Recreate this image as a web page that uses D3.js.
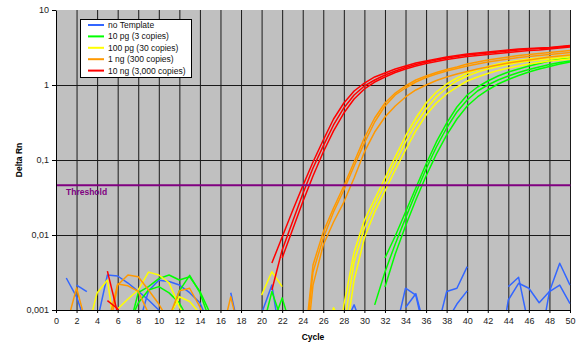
<!DOCTYPE html>
<html>
<head>
<meta charset="utf-8">
<script src="https://cdn.jsdelivr.net/npm/d3@7"></script>
<style>
  body { margin: 0; background: #fff; }
  svg text { font-family: "Liberation Sans", Arial, sans-serif; }
</style>
</head>
<body>
<div id="chart"></div>
<script>
// Amplification plot (Delta Rn vs cycle, log scale)
const width = 576, height = 342;
const plot = { left: 56, right: 570, top: 10, bottom: 310 };

const legendLabels = ["no Template", "10 pg (3 copies)", "100 pg (30 copies)", "1 ng (300 copies)", "10 ng (3,000 copies)"];
const legendColors = ["#3366ff", "#00ff00", "#ffff00", "#ff9900", "#ff0000"];

const yTicks = [0.001, 0.01, 0.1, 1, 10];
const yTickLabels = ["0,001", "0,01", "0,1", "1", "10"];
const xTicks = d3.range(0, 51, 2);
const threshold = 0.046;

// 10 ng (3,000 copies) - each array starts at the cycle given in the table below
const red1 = [0.00423, 0.0094, 0.0209, 0.045, 0.094, 0.185, 0.352, 0.575, 0.832, 1.06, 1.28, 1.445, 1.634, 1.792, 1.965, 2.089, 2.222, 2.362, 2.474, 2.591, 2.672, 2.754, 2.84, 2.929, 3.02, 3.067, 3.114, 3.162, 3.261, 3.362];
const red2 = [0.00185, 0.00631, 0.0149, 0.0352, 0.0782, 0.154, 0.293, 0.494, 0.736, 0.97, 1.166, 1.359, 1.538, 1.711, 1.877, 2.026, 2.154, 2.291, 2.399, 2.512, 2.591, 2.672, 2.754, 2.84, 2.929, 3.02, 3.067, 3.114, 3.211, 3.311];
const red3 = [0.00494, 0.0117, 0.0275, 0.0612, 0.128, 0.244, 0.423, 0.651, 0.885, 1.096, 1.279, 1.468, 1.634, 1.792, 1.935, 2.057, 2.188, 2.291, 2.399, 2.474, 2.551, 2.63, 2.712, 2.797, 2.884, 2.929, 3.02, 3.114, 3.211];
// 1 ng (300 copies)
const orange1 = [0.0002, 0.00398, 0.011, 0.0229, 0.045, 0.094, 0.197, 0.363, 0.575, 0.782, 0.97, 1.166, 1.318, 1.468, 1.609, 1.738, 1.905, 2.026, 2.154, 2.256, 2.362, 2.474, 2.551, 2.63, 2.712, 2.797, 2.884];
const orange2 = [0.00015, 0.00321, 0.00912, 0.0203, 0.0398, 0.0832, 0.169, 0.321, 0.525, 0.736, 0.912, 1.096, 1.259, 1.402, 1.538, 1.66, 1.792, 1.905, 2.026, 2.122, 2.222, 2.326, 2.399, 2.474, 2.551, 2.63, 2.712];
const orange3 = [0.0001, 0.00215, 0.00736, 0.0149, 0.0275, 0.0575, 0.128, 0.236, 0.374, 0.525, 0.692, 0.858, 1.0, 1.148, 1.279, 1.402, 1.514, 1.634, 1.738, 1.848, 1.965, 2.057, 2.154, 2.256, 2.362, 2.436, 2.512];
// 100 pg (30 copies)
const yellow1 = [0.0001, 0.00117, 0.00593, 0.0158, 0.0302, 0.0575, 0.11, 0.209, 0.363, 0.575, 0.807, 1.031, 1.24, 1.445, 1.609, 1.765, 1.905, 2.026, 2.122, 2.222, 2.291, 2.362, 2.436, 2.512];
const yellow2 = [0.0004, 0.00107, 0.0006, 0.00437, 0.0124, 0.0251, 0.0479, 0.0912, 0.174, 0.302, 0.479, 0.692, 0.912, 1.131, 1.318, 1.49, 1.634, 1.765, 1.877, 1.995, 2.089, 2.154, 2.222, 2.291, 2.362];
const yellow3 = [0.0003, 0.00251, 0.00912, 0.0203, 0.0386, 0.0736, 0.136, 0.244, 0.398, 0.575, 0.759, 0.94, 1.131, 1.279, 1.423, 1.561, 1.685, 1.792, 1.905, 1.995, 2.089, 2.154, 2.222];
// 10 pg (3 copies)
const green1 = [0.00117, 0.00321, 0.00759, 0.0168, 0.0363, 0.0759, 0.149, 0.267, 0.437, 0.631, 0.832, 1.0, 1.166, 1.318, 1.468, 1.609, 1.738, 1.877, 1.995, 2.089];
const green2 = [0.00494, 0.0097, 0.0203, 0.0423, 0.0884, 0.174, 0.311, 0.509, 0.736, 0.94, 1.131, 1.318, 1.49, 1.634, 1.792, 1.935, 2.089, 2.222, 2.326];
const green3 = [0.00203, 0.00558, 0.0132, 0.0293, 0.0612, 0.12, 0.215, 0.352, 0.525, 0.692, 0.858, 1.031, 1.184, 1.338, 1.49, 1.634, 1.765, 1.905, 2.026];

// baseline noise fragments
const blueNoise1 = [0.00267, 0.0015, 0.0006];
const blueNoise2 = [0.00215, 0.00176];
const blueNoise3 = [0.0007, 0.00293, 0.00284, 0.00229, 0.00177, 0.00136, 0.001, 0.0006];
const blueNoise4 = [0.0006, 0.0018, 0.0025, 0.0024, 0.00215, 0.0017, 0.00125, 0.0006];
const blueNoise5 = [0.0017, 0.0004];
const blueNoise6 = [0.0009, 0.00215, 0.0003];
const blueNoise7 = [0.0006, 0.00117, 0.0005];
const blueNoise8 = [0.0005, 0.00195, 0.00158, 0.0004];
const blueNoise9 = [0.00108, 0.00165, 0.0005];
const blueNoise10 = [0.0005, 0.00176, 0.00195, 0.00378];
const blueNoise11 = [0.0007, 0.0012, 0.0018];
const blueNoise12 = [0.00205, 0.00273, 0.0006];
const blueNoise13 = [0.0002, 0.00136, 0.00227, 0.00195, 0.00125, 0.00176, 0.0042, 0.00215];
const blueNoise14 = [0.0003, 0.00176, 0.00215, 0.00122];
const greenNoise1 = [0.0005, 0.0017, 0.00205, 0.00262, 0.00293, 0.00251, 0.00278, 0.00177, 0.0009];
const greenNoise2 = [0.0006, 0.00124, 0.00185, 0.00205, 0.00169, 0.00124, 0.0007];
const greenNoise3 = [0.0007, 0.0018, 0.0029, 0.0017, 0.0007];
const greenNoise4 = [0.0005, 0.00176, 0.0007];
const greenNoise5 = [0.0006, 0.00145, 0.0005];
const yellowNoise1 = [0.0005, 0.00169, 0.00251, 0.0003];
const yellowNoise2 = [0.00103, 0.0014, 0.00185, 0.0032, 0.00293, 0.0023, 0.0011, 0.0006];
const yellowNoise3 = [0.0008, 0.0015, 0.0013, 0.0009];
const yellowNoise4 = [0.00158, 0.00324, 0.00205];
const orangeNoise1 = [0.0006, 0.00197, 0.0006];
const orangeNoise2 = [0.0004, 0.00215, 0.00293, 0.00278, 0.00185, 0.0012, 0.0007];
const orangeNoise3 = [0.0006, 0.00222, 0.0021, 0.00177, 0.0009];
const orangeNoise4 = [0.0008, 0.0018, 0.00195, 0.0011, 0.0005];
const orangeNoise5 = [0.0004, 0.0015, 0.0004];
const redNoise1 = [0.0033, 0.0009];
const redNoise2 = [0.00133, 0.00104, 0.0005];

// [group index, first cycle, values] in drawing order
const curves = [
  [0, 1, blueNoise1], [0, 2, blueNoise2], [0, 4, blueNoise3], [0, 8, blueNoise4], [0, 17, blueNoise5],
  [0, 20, blueNoise6], [0, 28, blueNoise7], [0, 33, blueNoise8], [0, 34, blueNoise9], [0, 37, blueNoise10],
  [0, 38, blueNoise11], [0, 44, blueNoise12], [0, 43, blueNoise13], [0, 47, blueNoise14],
  [1, 7, greenNoise1], [1, 7, greenNoise2], [1, 11, greenNoise3], [1, 20, greenNoise4], [1, 21, greenNoise5],
  [1, 31, green1], [1, 32, green2], [1, 32, green3],
  [2, 3, yellowNoise1], [2, 6, yellowNoise2], [2, 11, yellowNoise3], [2, 20, yellowNoise4],
  [2, 27, yellow1], [2, 26, yellow2], [2, 28, yellow3],
  [3, 1, orangeNoise1], [3, 5, orangeNoise2], [3, 5, orangeNoise3], [3, 11, orangeNoise4], [3, 16, orangeNoise5],
  [3, 24, orange1], [3, 24, orange2], [3, 24, orange3],
  [4, 5, redNoise1], [4, 5, redNoise2],
  [4, 21, red1], [4, 21, red2], [4, 22, red3]
];

const x = d3.scaleLinear().domain([0, 50]).range([plot.left, plot.right]);
const y = d3.scaleLog().domain([0.001, 10]).range([plot.bottom, plot.top]);

const svg = d3.select("#chart").append("svg")
    .attr("width", width)
    .attr("height", height);

svg.append("defs").append("clipPath").attr("id", "clip")
  .append("rect")
    .attr("x", plot.left + 0.5).attr("y", plot.top)
    .attr("width", plot.right - plot.left).attr("height", plot.bottom - plot.top + 0.5);

// plot background
svg.append("rect")
    .attr("x", plot.left + 0.5).attr("y", plot.top)
    .attr("width", plot.right - plot.left).attr("height", plot.bottom - plot.top)
    .attr("fill", "#c0c0c0");

// gridlines
svg.append("g").selectAll("line")
  .data(xTicks.filter(d => d > 0))
  .join("line")
    .attr("x1", d => x(d) + 0.5).attr("x2", d => x(d) + 0.5)
    .attr("y1", plot.top).attr("y2", plot.bottom)
    .attr("stroke", "#1a1a1a").attr("stroke-width", 1);

svg.append("g").selectAll("line")
  .data(yTicks.filter(d => d > 0.001 && d < 10))
  .join("line")
    .attr("x1", plot.left).attr("x2", plot.right + 0.5)
    .attr("y1", d => y(d) + 0.5).attr("y2", d => y(d) + 0.5)
    .attr("stroke", "#1a1a1a").attr("stroke-width", 1);

// curves
const line = d3.line()
    .defined(d => d.v != null)
    .x(d => x(d.c))
    .y(d => y(d.v));

svg.append("g").attr("clip-path", "url(#clip)")
  .selectAll("path")
  .data(curves)
  .join("path")
    .attr("fill", "none")
    .attr("stroke", d => legendColors[d[0]])
    .attr("stroke-width", 1.5)
    .attr("stroke-linejoin", "round")
    .attr("d", d => line(d[2].map((v, i) => ({ c: d[1] + i, v }))));

// threshold
svg.append("line")
    .attr("x1", plot.left + 0.5).attr("x2", plot.right + 0.5)
    .attr("y1", y(threshold)).attr("y2", y(threshold))
    .attr("stroke", "#800080").attr("stroke-width", 2);

svg.append("text")
    .attr("x", 66).attr("y", 195)
    .style("font-size", "8.5px").style("font-weight", "bold")
    .attr("fill", "#800080")
    .text("Threshold");

// axes
const yAxis = svg.append("g")
    .attr("transform", "translate(" + plot.left + ",0)")
    .call(d3.axisLeft(y).tickValues(yTicks).tickFormat((d, i) => yTickLabels[i]).tickSize(4).tickPadding(3).tickSizeOuter(0));

const xAxis = svg.append("g")
    .attr("transform", "translate(0," + plot.bottom + ")")
    .call(d3.axisBottom(x).tickValues(xTicks).tickFormat(d3.format("d")).tickSize(3).tickPadding(5).tickSizeOuter(0));

svg.selectAll(".domain, .tick line").attr("stroke", "#000");
svg.selectAll(".tick text")
    .attr("fill", "#222")
    .style("font-size", "9px")
    .style("font-family", "'Liberation Sans', Arial, sans-serif");

svg.append("text")
    .attr("x", (plot.left + plot.right) / 2).attr("y", 340)
    .attr("text-anchor", "middle")
    .style("font-size", "8.5px").style("font-weight", "bold")
    .text("Cycle");

svg.append("text")
    .attr("transform", "translate(21.5," + ((plot.top + plot.bottom) / 2) + ") rotate(-90)")
    .attr("text-anchor", "middle")
    .style("font-size", "8.5px").style("font-weight", "bold")
    .text("Delta Rn");

// legend
const legend = svg.append("g").attr("transform", "translate(80.5,19.5)");
legend.append("rect")
    .attr("width", 111).attr("height", 58)
    .attr("fill", "#fff").attr("stroke", "#000");

const item = legend.selectAll("g.item")
  .data(legendLabels)
  .join("g")
    .attr("class", "item")
    .attr("transform", (d, i) => "translate(0," + (5.5 + i * 11.4) + ")");

item.append("line")
    .attr("x1", 7.5).attr("x2", 23.5)
    .attr("stroke", (d, i) => legendColors[i]).attr("stroke-width", 2);

item.append("text")
    .attr("x", 27.5).attr("dy", "0.35em")
    .style("font-size", "8.5px")
    .attr("fill", "#111")
    .text(d => d);
</script>
</body>
</html>
